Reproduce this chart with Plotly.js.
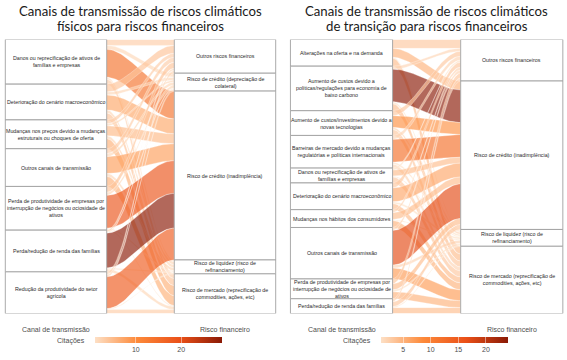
<!DOCTYPE html>
<html><head><meta charset="utf-8">
<script src="https://cdn.plot.ly/plotly-3.0.1.min.js"></script>
<style>html,body{margin:0;padding:0;background:#fff}#chart{width:567px;height:360px}</style>
</head><body><div id="chart"></div>
<script>
// ---------------- DATA ----------------
const eixos = ['Canal de transmissão', 'Risco financeiro'];
const tituloFis = ['Canais de transmissão de riscos climáticos', 'físicos para riscos financeiros'];
const tituloTra = ['Canais de transmissão de riscos climáticos', 'de transição para riscos financeiros'];

// Chart 1: physical risks
const fisCanais = [
  'Danos ou reprecificação de ativos de<br>famílias e empresas',
  'Deterioração do cenário macroeconômico',
  'Mudanças nos preços devido a mudanças<br>estruturais ou choques de oferta',
  'Outros canais de transmissão',
  'Perda de produtividade de empresas por<br>interrupção de negócios ou ociosidade de<br>ativos',
  'Perda/redução de renda das famílias',
  'Redução da produtividade do setor<br>agrícola'
];
const fisRiscos = [
  'Outros riscos financeiros',
  'Risco de crédito (depreciação de<br>colateral)',
  'Risco de crédito (inadimplência)',
  'Risco de liquidez (risco de<br>refinanciamento)',
  'Risco de mercado (reprecificação de<br>commodities, ações, etc)'
];
// flow widths (rows = canal, cols = risco)
const fisFluxo = [
  [6, 4, 28, 2, 5],
  [8, 3, 15, 3, 7],
  [4, 2, 10, 3, 10],
  [5, 3, 17, 3, 10],
  [6, 3, 33, 1, 1],
  [2, 1, 35, 1, 3],
  [3, 2, 32, 1, 4]
];
// citations (fill colour)
const fisCitacoes = [
  [3, 2, 14, 1, 3],
  [4, 2, 7, 2, 4],
  [3, 2, 5, 2, 6],
  [3, 2, 8, 2, 6],
  [4, 2, 19, 1, 1],
  [2, 1, 29, 1, 2],
  [2, 2, 18, 1, 3]
];
const fisTicks = [10, 20];

// Chart 2: transition risks
const traCanais = [
  'Alterações na oferta e na demanda',
  'Aumento de custos devido a<br>políticas/regulações para economia de<br>baixo carbono',
  'Aumento de custos/investimentos devido a<br>novas tecnologias',
  'Barreiras de mercado devido a mudanças<br>regulatórias e políticas internacionais',
  'Danos ou reprecificação de ativos de<br>famílias e empresas',
  'Deterioração do cenário macroeconômico',
  'Mudanças nos hábitos dos consumidores',
  'Outros canais de transmissão',
  'Perda de produtividade de empresas por<br>interrupção de negócios ou ociosidade de<br>ativos',
  'Perda/redução de renda das famílias'
];
const traRiscos = [
  'Outros riscos financeiros',
  'Risco de crédito (inadimplência)',
  'Risco de liquidez (risco de<br>refinanciamento)',
  'Risco de mercado (reprecificação de<br>commodities, ações, etc)'
];
const traFluxo = [
  [9, 9, 1, 8],
  [3, 33, 2, 7],
  [5, 12, 2, 6],
  [4, 23, 2, 4],
  [2, 6, 1, 6],
  [5, 14, 2, 6],
  [3, 7, 1, 7],
  [3, 35, 3, 11],
  [5, 6, 2, 7],
  [3, 5, 1, 6]
];
const traCitacoes = [
  [3, 5, 1, 4],
  [2, 24, 1, 4],
  [3, 8, 2, 3],
  [2, 12, 1, 2],
  [1, 4, 1, 3],
  [3, 6, 1, 4],
  [2, 4, 1, 5],
  [2, 17, 2, 7],
  [3, 4, 1, 5],
  [2, 3, 1, 4]
];
const traTicks = [5, 10, 15, 20];

// ---------------- STYLE / LAYOUT ----------------
const W = 567, H = 360;
const escala = [[0, '#FDE0C6'], [0.33, '#FD8A3A'], [0.67, '#EA5018'], [1, '#8A1A06']];
const ALPHA = 0.66;
const LARG = 0.6; // stratum width in axis units
const yTopPx = 40, yBotPx = 318;

function hex(h) { return [1, 3, 5].map(k => parseInt(h.substr(k, 2), 16)); }
function corEm(t) {
  t = Math.max(0, Math.min(1, t));
  for (let k = 1; k < escala.length; k++) {
    if (t <= escala[k][0]) {
      const a = escala[k - 1], b = escala[k];
      const f = (t - a[0]) / (b[0] - a[0]);
      const ca = hex(a[1]), cb = hex(b[1]);
      return ca.map((v, i) => Math.round(v + (cb[i] - v) * f));
    }
  }
  return hex(escala[escala.length - 1][1]);
}
function suave(u) { return u * u * (3 - 2 * u); }

const traces = [], shapes = [], annotations = [];

function montar(cfg) {
  const { canais, riscos, fluxo, cit, xa, ya, ticks, ax1px, ax2px, titulo } = cfg;
  const nS = canais.length, nT = riscos.length;
  const sTot = fluxo.map(r => r.reduce((a, b) => a + b, 0));
  const tTot = riscos.map((_, j) => fluxo.reduce((a, r) => a + r[j], 0));
  const total = sTot.reduce((a, b) => a + b, 0);
  const flat = cit.flat();
  const cmin = Math.min(...flat), cmax = Math.max(...flat);

  const sTop = [], tTop = [];
  let acc = 0; sTot.forEach(v => { sTop.push(acc); acc += v; });
  acc = 0; tTot.forEach(v => { tTop.push(acc); acc += v; });
  const yL = [], yR = [];
  for (let i = 0; i < nS; i++) {
    yL.push([]); let a = sTop[i];
    for (let j = 0; j < nT; j++) { yL[i].push(a); a += fluxo[i][j]; }
  }
  for (let i = 0; i < nS; i++) yR.push([]);
  for (let j = 0; j < nT; j++) {
    let a = tTop[j];
    for (let i = 0; i < nS; i++) { yR[i][j] = a; a += fluxo[i][j]; }
  }
  const x0 = 1 + LARG / 2, x1 = 2 - LARG / 2, N = 40;
  for (let i = 0; i < nS; i++) {
    for (let j = 0; j < nT; j++) {
      const f = fluxo[i][j]; if (f <= 0) continue;
      const xs = [], ys = [];
      for (let k = 0; k <= N; k++) {
        const u = k / N;
        xs.push(x0 + (x1 - x0) * u);
        ys.push(yL[i][j] + (yR[i][j] - yL[i][j]) * suave(u));
      }
      for (let k = N; k >= 0; k--) {
        const u = k / N;
        xs.push(x0 + (x1 - x0) * u);
        ys.push(yL[i][j] + f + (yR[i][j] - yL[i][j]) * suave(u));
      }
      const c = corEm((cit[i][j] - cmin) / (cmax - cmin));
      traces.push({
        type: 'scatter', mode: 'lines', x: xs, y: ys, xaxis: xa, yaxis: ya,
        fill: 'toself', fillcolor: `rgba(${c[0]},${c[1]},${c[2]},${ALPHA})`,
        line: { width: 0.5, color: 'rgba(255,255,255,0.6)' }, hoverinfo: 'skip', showlegend: false
      });
    }
  }
  const xr = xa, yr = ya;
  const caixa = (xc, y0, y1, txt) => {
    shapes.push({ type: 'rect', xref: xr, yref: yr, x0: xc - LARG / 2, x1: xc + LARG / 2, y0, y1,
      fillcolor: '#ffffff', line: { color: '#A0A0A0', width: 0.9 }, layer: 'above' });
    annotations.push({ xref: xr, yref: yr, x: xc, y: (y0 + y1) / 2, text: txt, showarrow: false,
      font: { family: 'Liberation Sans, Arial, sans-serif', size: 5.3, color: '#2a2a2a' },
      xanchor: 'center', yanchor: 'middle' });
  };
  canais.forEach((t, i) => caixa(1, sTop[i], sTop[i] + sTot[i], t));
  riscos.forEach((t, j) => caixa(2, tTop[j], tTop[j] + tTot[j], t));

  eixos.forEach((t, k) => annotations.push({ xref: xr, yref: 'paper', x: k + 1, y: 1 - 334 / H, text: t,
    showarrow: false, xanchor: 'center', yanchor: 'middle',
    font: { family: 'Liberation Sans, Arial, sans-serif', size: 7, color: '#4D4D4D' } }));
  titulo.forEach((t, k) => annotations.push({ xref: xr, yref: 'paper', x: 1.5, y: 1 - (11 + 15 * k) / H, text: t,
    showarrow: false, xanchor: 'center', yanchor: 'middle',
    font: { family: 'Lato, sans-serif', size: 13.2, color: '#1a1a1a' } }));

  const r0 = 1 - 0.32, r1 = 2 + 0.32, unit = ax2px - ax1px;
  const p0 = ax1px - 0.32 * unit, p1 = ax2px + 0.32 * unit;
  const axx = { domain: [p0 / W, Math.min(1, p1 / W)], range: [r0, r1], visible: false, fixedrange: true, anchor: ya };
  const axy = { domain: [1 - yBotPx / H, 1 - yTopPx / H], range: [total, 0], visible: false, fixedrange: true, anchor: xa };

  const barL = cfg.barL, barR = cfg.barR;
  traces.push({
    type: 'scatter', mode: 'markers', x: [1.5, 1.5], y: [0, 0], xaxis: xa, yaxis: ya, hoverinfo: 'skip', showlegend: false,
    marker: { size: 1, opacity: 0, color: [cmin, cmax], cmin, cmax,
      colorscale: escala, showscale: true,
      colorbar: { orientation: 'h', x: (barL + barR) / 2 / W, xanchor: 'center', xref: 'paper',
        y: 1 - 342 / H, yanchor: 'top', yref: 'paper', len: barR - barL, lenmode: 'pixels',
        thickness: 6, xpad: 0, ypad: 0, outlinewidth: 0, tickvals: ticks,
        ticks: 'inside', ticklen: 6, tickwidth: 0.6, tickcolor: 'rgba(255,255,255,0.8)',
        tickfont: { family: 'Liberation Sans, Arial, sans-serif', size: 7, color: '#4D4D4D' } } }
  });
  annotations.push({ xref: 'paper', yref: 'paper', x: (barL - 8) / W, y: 1 - 346 / H, text: 'Citações', showarrow: false,
    xanchor: 'right', yanchor: 'middle', font: { family: 'Liberation Sans, Arial, sans-serif', size: 7, color: '#4D4D4D' } });
  return { axx, axy };
}

const a = montar({ canais: fisCanais, riscos: fisRiscos, fluxo: fisFluxo, cit: fisCitacoes, xa: 'x', ya: 'y',
  ticks: fisTicks, ax1px: 56, ax2px: 225, titulo: tituloFis, barL: 95, barR: 222 });
const b = montar({ canais: traCanais, riscos: traRiscos, fluxo: traFluxo, cit: traCitacoes, xa: 'x2', ya: 'y2',
  ticks: traTicks, ax1px: 341.5, ax2px: 511.75, titulo: tituloTra, barL: 381, barR: 508 });

const layout = {
  width: W, height: H, margin: { l: 0, r: 0, t: 0, b: 0 }, paper_bgcolor: '#fff', plot_bgcolor: 'rgba(0,0,0,0)',
  showlegend: false, xaxis: a.axx, yaxis: a.axy, xaxis2: b.axx, yaxis2: b.axy, shapes, annotations
};
Plotly.newPlot('chart', traces, layout, { displayModeBar: false, staticPlot: true });
</script></body></html>
